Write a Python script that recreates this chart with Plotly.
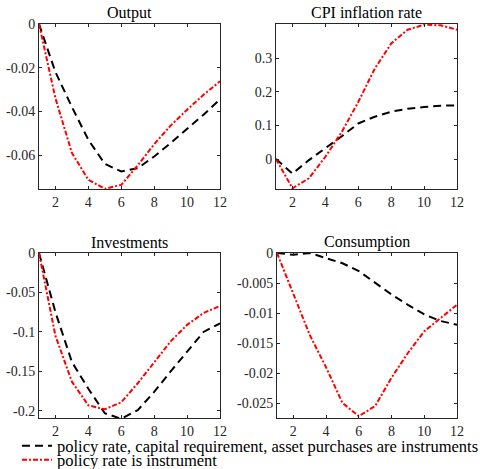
import plotly.graph_objects as go

periods = list(range(1, 13))

output_all = [0, -0.022, -0.038, -0.053, -0.064, -0.0675, -0.066, -0.0606, -0.0545, -0.048, -0.0415, -0.0345]
output_pr = [0, -0.034, -0.059, -0.0713, -0.0754, -0.0736, -0.0647, -0.055, -0.0465, -0.0392, -0.0324, -0.0262]

cpi_all = [0, -0.043, -0.003, 0.032, 0.068, 0.106, 0.126, 0.141, 0.150, 0.155, 0.159, 0.160]
cpi_pr = [0, -0.087, -0.057, 0.007, 0.081, 0.170, 0.269, 0.344, 0.385, 0.400, 0.398, 0.385]

inv_all = [0, -0.075, -0.138, -0.172, -0.203, -0.210, -0.199, -0.176, -0.150, -0.125, -0.100, -0.089]
inv_pr = [0, -0.105, -0.163, -0.193, -0.198, -0.189, -0.165, -0.138, -0.112, -0.091, -0.076, -0.067]

cons_all = [0, -0.0003, 0.0, -0.0008, -0.0017, -0.003, -0.005, -0.0069, -0.0086, -0.0102, -0.0113, -0.0119]
cons_pr = [0, -0.0069, -0.0136, -0.019, -0.0249, -0.0271, -0.0254, -0.0207, -0.0166, -0.013, -0.0108, -0.0086]

titles = ["Output", "CPI inflation rate", "Investments", "Consumption"]
series_all = [output_all, cpi_all, inv_all, cons_all]
series_pr = [output_pr, cpi_pr, inv_pr, cons_pr]
legend_names = ["policy rate, capital requirement, asset purchases are instruments",
                "policy rate is instrument"]

yranges = [[-0.0755, 0], [-0.089, 0.402], [-0.209, 0], [-0.0274, 0]]
ytickvals = [[0, -0.02, -0.04, -0.06], [0, 0.1, 0.2, 0.3], [0, -0.05, -0.1, -0.15, -0.2],
             [0, -0.005, -0.01, -0.015, -0.02, -0.025]]
yticktext = [["0", "-0.02", "-0.04", "-0.06"], ["0", "0.1", "0.2", "0.3"],
             ["0", "-0.05", "-0.1", "-0.15", "-0.2"],
             ["0", "-0.005", "-0.01", "-0.015", "-0.02", "-0.025"]]

W, H = 480, 469
xdoms = [[39 / W, 220 / W], [276 / W, 457 / W], [39 / W, 220 / W], [277 / W, 457 / W]]
ydoms = [[1 - 189 / H, 1 - 24 / H], [1 - 189 / H, 1 - 24 / H],
         [1 - 418 / H, 1 - 253 / H], [1 - 418 / H, 1 - 253 / H]]

FONT = "Liberation Serif"
AX = "#262626"

fig = go.Figure()
layout = dict(width=W, height=H, margin=dict(l=0, r=0, t=0, b=0, autoexpand=False),
              paper_bgcolor="white", plot_bgcolor="white",
              font=dict(family=FONT, size=14, color="black"))
annotations = []
for i in range(4):
    n = "" if i == 0 else str(i + 1)
    xa, ya = "x" + n, "y" + n
    fig.add_trace(go.Scatter(x=periods, y=series_all[i], mode="lines", xaxis=xa, yaxis=ya,
                             line=dict(color="black", width=2, dash="8px,5px"),
                             name=legend_names[0], showlegend=(i == 0), legend="legend",
                             cliponaxis=False))
    fig.add_trace(go.Scatter(x=periods, y=series_pr[i], mode="lines", xaxis=xa, yaxis=ya,
                             line=dict(color="red", width=2, dash="5px,2px,2px,2px"),
                             name=legend_names[1], showlegend=(i == 0), legend="legend2",
                             cliponaxis=False))
    layout["xaxis" + n] = dict(domain=xdoms[i], range=[1, 12], tickvals=[2, 4, 6, 8, 10, 12],
                               ticks="inside", ticklen=3, tickcolor=AX, showline=True,
                               linecolor=AX, linewidth=1, mirror="ticks", showgrid=False,
                               zeroline=False, anchor=ya, tickfont=dict(size=14, color=AX))
    layout["yaxis" + n] = dict(domain=ydoms[i], range=yranges[i], tickvals=ytickvals[i],
                               ticktext=yticktext[i], ticks="inside", ticklen=3, tickcolor=AX,
                               showline=True, linecolor=AX, linewidth=1, mirror="ticks",
                               showgrid=False, zeroline=False, anchor=xa,
                               tickfont=dict(size=14, color=AX))
    annotations.append(dict(text=titles[i], xref="paper", yref="paper",
                            x=(xdoms[i][0] + xdoms[i][1]) / 2, y=ydoms[i][1] + 11 / H,
                            xanchor="center", yanchor="middle", showarrow=False,
                            font=dict(size=16, color="black")))
layout["annotations"] = annotations
legend_common = dict(x=17 / W, xanchor="left", yanchor="middle",
                     bgcolor="rgba(0,0,0,0)", borderwidth=0,
                     font=dict(size=16.5, color="black"))
layout["legend"] = dict(y=1 - 446 / H, **legend_common)
layout["legend2"] = dict(y=1 - 460 / H, **legend_common)
fig.update_layout(**layout)
fig.write_html("out.html")
